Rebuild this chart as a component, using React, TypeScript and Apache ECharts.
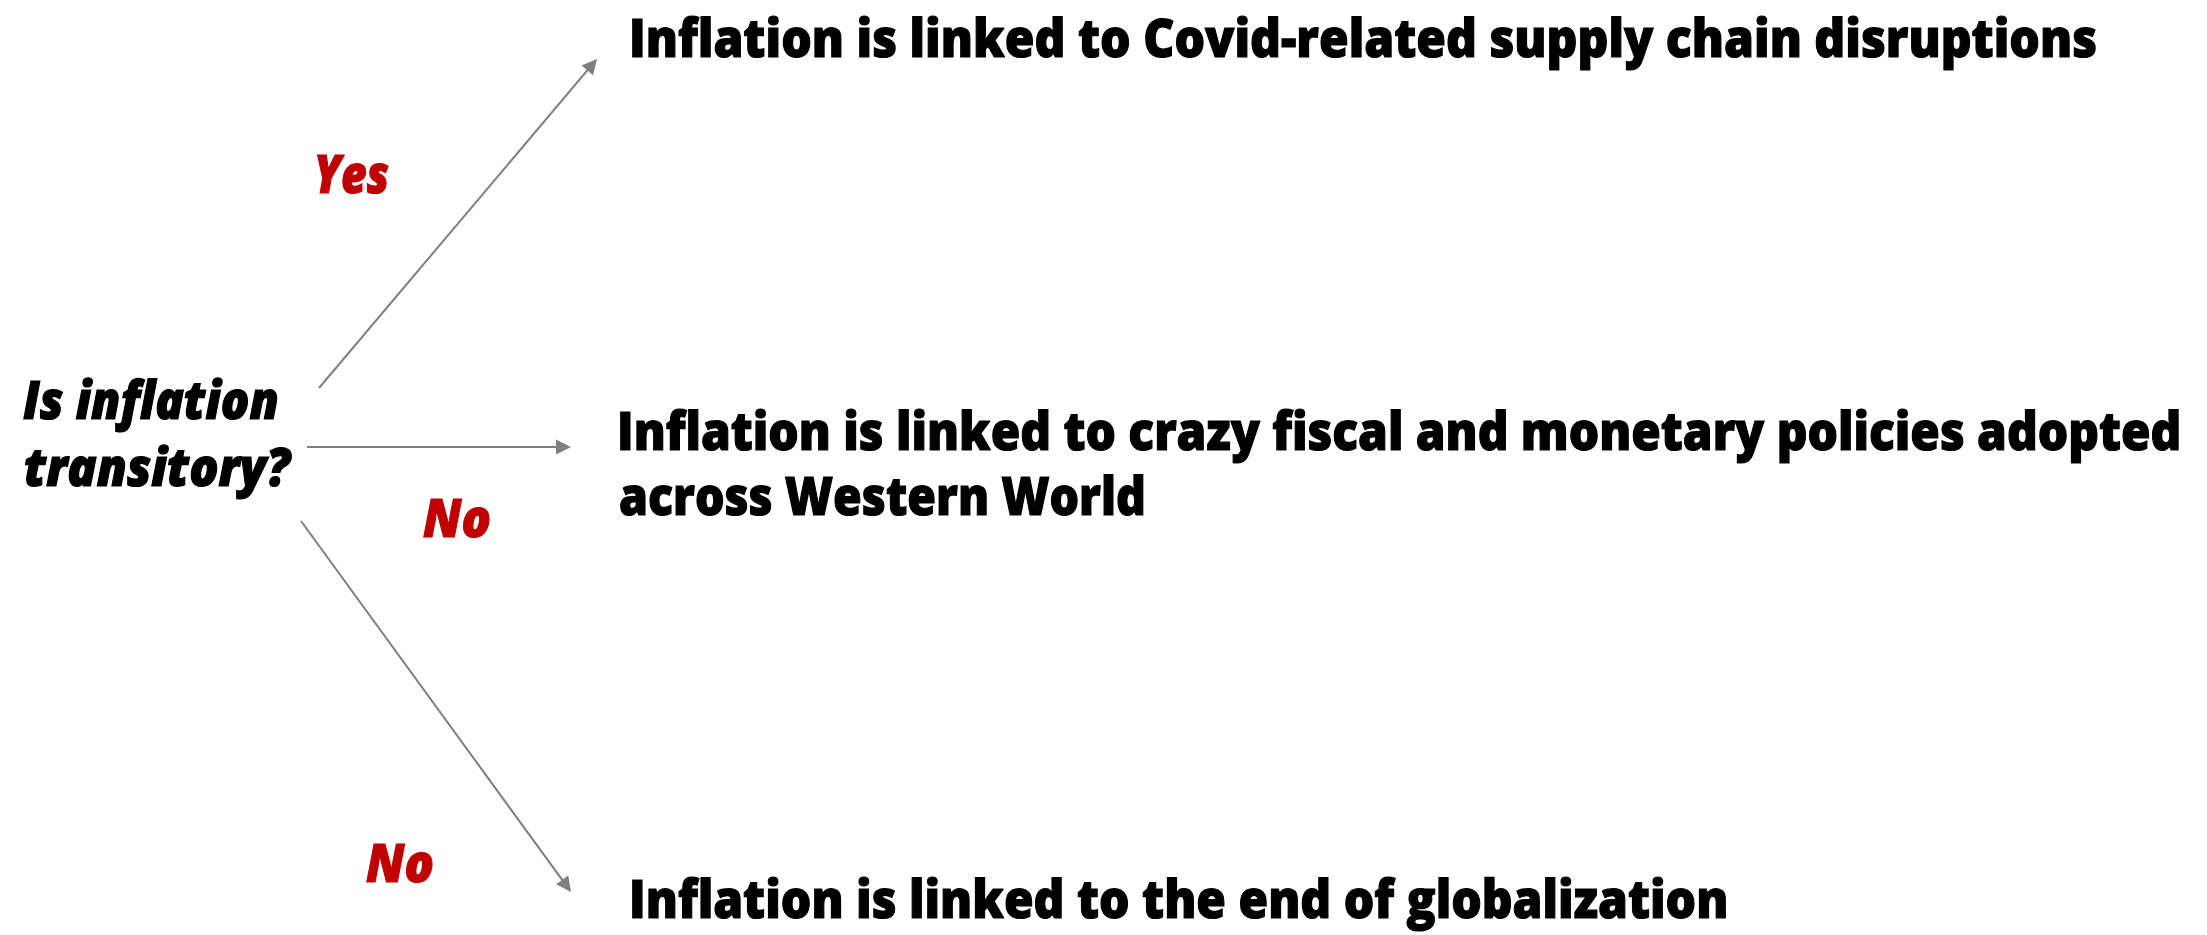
import React, { useEffect, useRef } from "react";
import * as echarts from "echarts";

const CANVAS_W = 2207;
const CANVAS_H = 935;

// Question on the left (two lines)
const questionLines = ["Is inflation", "transitory?"];
const questionLeft = [23, 24];
const questionBaseline = [419, 486];
const questionWidth = [256, 266];

// Answer labels on the branches
const answerLabels = ["Yes", "No", "No"];
const answerLeft = [314, 423, 366];
const answerBaseline = [193, 537, 882];
const answerWidth = [75, 68, 68];

// Outcome statements on the right
const outcomeLines = [
  "Inflation is linked to Covid-related supply chain disruptions",
  "Inflation is linked to crazy fiscal and monetary policies adopted",
  "across Western World",
  "Inflation is linked to the end of globalization",
];
const outcomeLeft = [629, 617, 619, 629];
const outcomeBaseline = [57, 450, 515, 918];
const outcomeWidth = [1468, 1565, 527, 1099];

// Branch arrows (start point, arrow tip)
const arrowStart = [
  [319, 388],
  [307, 447],
  [301, 521],
];
const arrowTip = [
  [597, 59],
  [571, 447],
  [571, 892],
];

const FONT_FAMILY = '"Open Sans", "Noto Sans", sans-serif';
const FONT_SIZE = 53;
const CENTRAL_SHIFT = 0.388; // central baseline above alphabetic baseline (em)
const ARROW_SIZE = 15;
const LINE_COLOR = "#7f7f7f";
const RED = "#c00000";

function measure(text: string, italic: boolean): number {
  const c = document.createElement("canvas");
  const ctx = c.getContext("2d");
  if (!ctx) return text.length * FONT_SIZE * 0.5;
  ctx.font = `${italic ? "italic " : ""}800 ${FONT_SIZE}px ${FONT_FAMILY}`;
  return ctx.measureText(text).width;
}

export default function App() {
  const ref = useRef<HTMLDivElement>(null);

  useEffect(() => {
    document.body.style.margin = "0";
    if (!ref.current) return;
    const chart = echarts.init(ref.current, undefined, { renderer: "svg" });

    const linesData = arrowStart.map((s, i) => {
      const t = arrowTip[i];
      const dx = t[0] - s[0];
      const dy = t[1] - s[1];
      const len = Math.sqrt(dx * dx + dy * dy);
      const end = [t[0] - (dx / len) * (ARROW_SIZE / 2), t[1] - (dy / len) * (ARROW_SIZE / 2)];
      return { coords: [s, end] };
    });

    chart.setOption({
      animation: false,
      backgroundColor: "#ffffff",
      grid: { left: 0, right: 0, top: 0, bottom: 0, show: false },
      xAxis: { type: "value", min: 0, max: CANVAS_W, show: false },
      yAxis: { type: "value", min: 0, max: CANVAS_H, inverse: true, show: false },
      series: [
        {
          type: "lines",
          coordinateSystem: "cartesian2d",
          silent: true,
          symbol: ["none", "triangle"],
          symbolSize: ARROW_SIZE,
          lineStyle: { color: LINE_COLOR, width: 2, opacity: 1, curveness: 0 },
          data: linesData,
        },
      ],
    });

    const makeText = (
      text: string,
      left: number,
      baseline: number,
      width: number,
      fill: string,
      italic: boolean
    ) => {
      const p = chart.convertToPixel({ gridIndex: 0 }, [left, baseline]) as number[];
      const w = measure(text, italic);
      return {
        type: "text",
        x: p[0],
        y: p[1] - CENTRAL_SHIFT * FONT_SIZE,
        scaleX: width / w,
        silent: true,
        style: {
          text,
          x: 0,
          y: 0,
          fill,
          stroke: fill,
          lineWidth: 1.2,
          fontFamily: FONT_FAMILY,
          fontSize: FONT_SIZE,
          lineHeight: FONT_SIZE,
          fontWeight: 800,
          fontStyle: italic ? "italic" : "normal",
          textAlign: "left",
          align: "left",
          textVerticalAlign: "middle",
          verticalAlign: "middle",
        },
      };
    };

    const elements: any[] = [];
    questionLines.forEach((t, i) =>
      elements.push(makeText(t, questionLeft[i], questionBaseline[i], questionWidth[i], "#000000", true))
    );
    answerLabels.forEach((t, i) =>
      elements.push(makeText(t, answerLeft[i], answerBaseline[i], answerWidth[i], RED, true))
    );
    outcomeLines.forEach((t, i) =>
      elements.push(makeText(t, outcomeLeft[i], outcomeBaseline[i], outcomeWidth[i], "#000000", false))
    );

    chart.setOption({ graphic: { elements } });

    return () => {
      chart.dispose();
    };
  }, []);

  return <div ref={ref} style={{ width: CANVAS_W, height: CANVAS_H }} />;
}
